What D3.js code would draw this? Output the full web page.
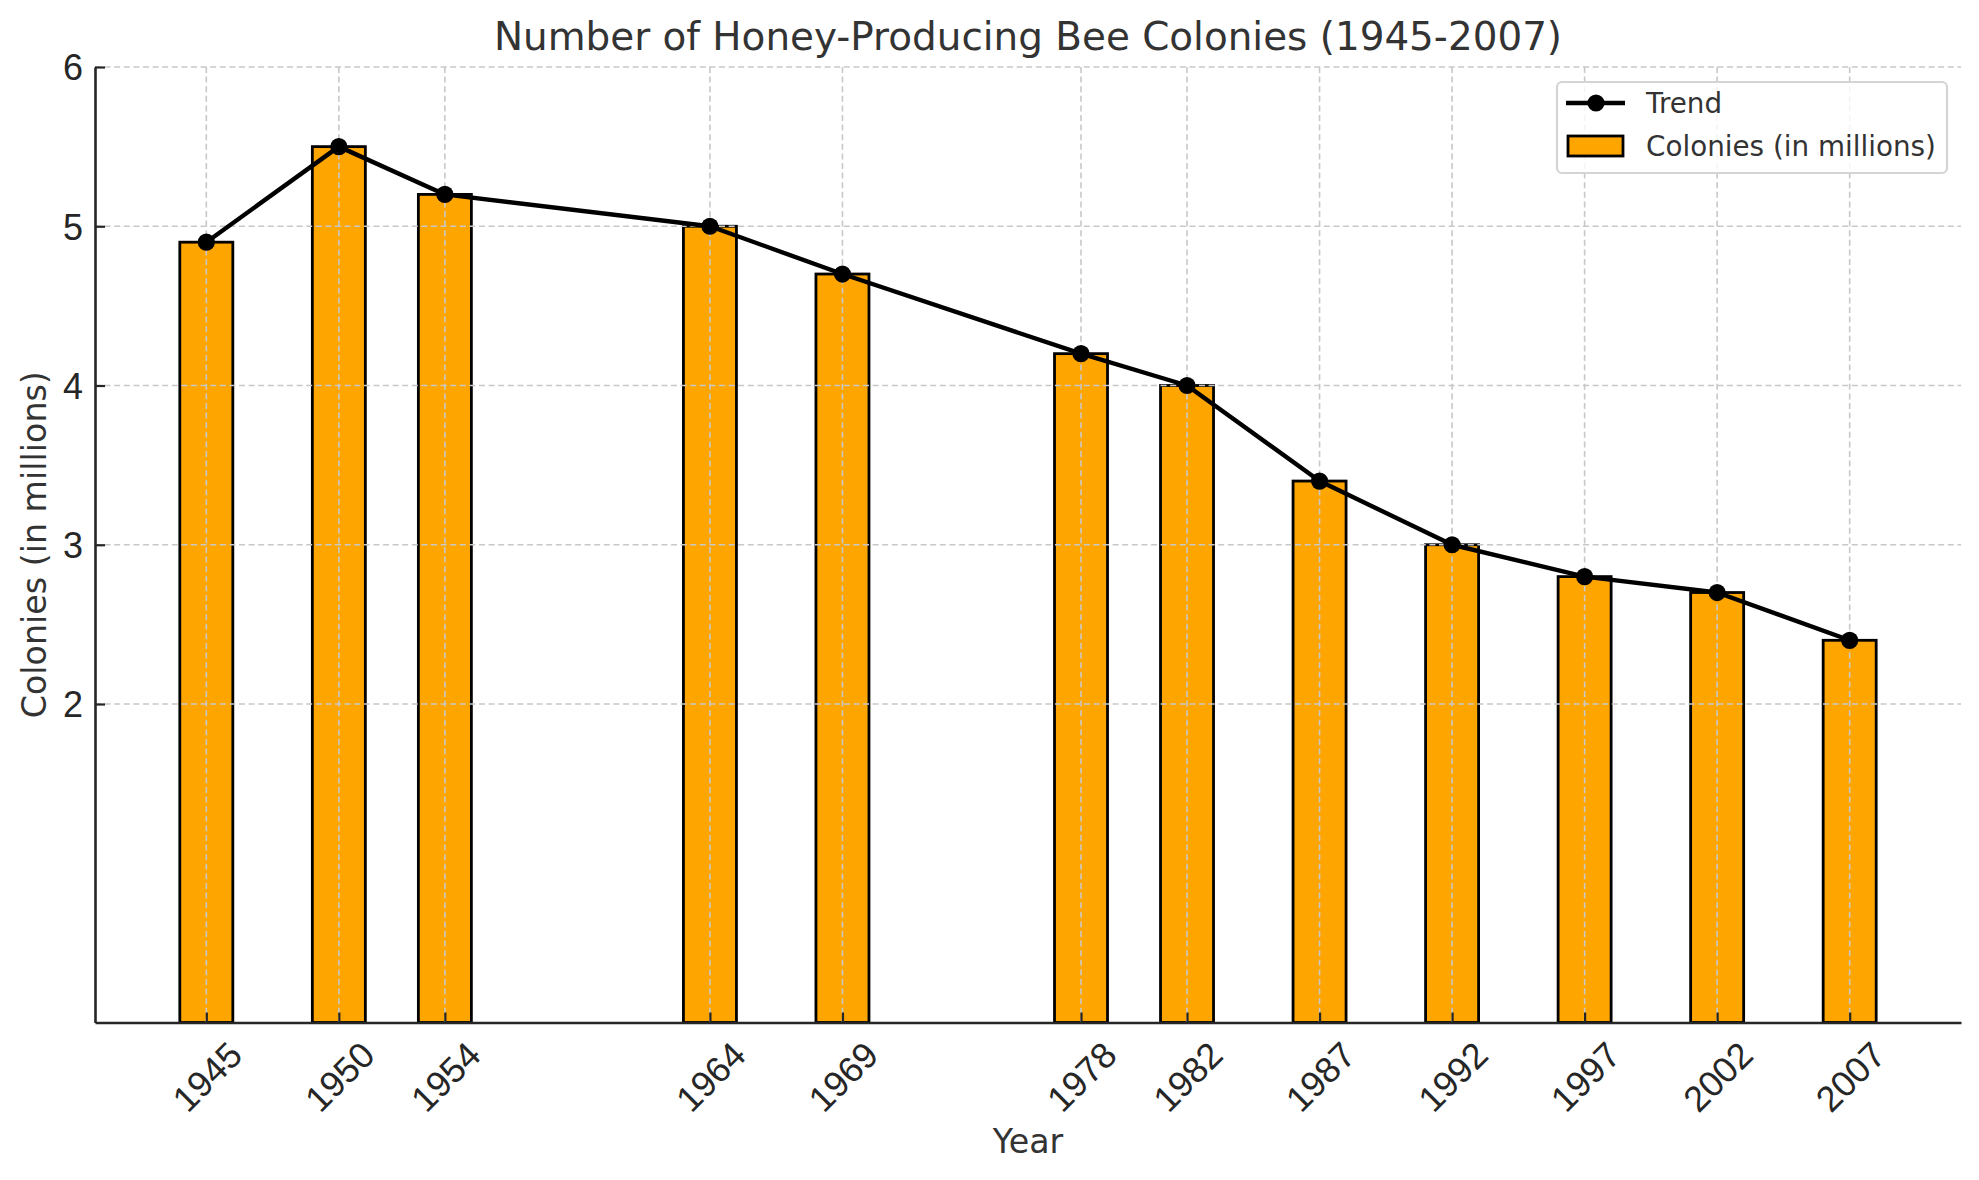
<!DOCTYPE html>
<html>
<head>
<meta charset="utf-8">
<script src="https://cdn.jsdelivr.net/npm/d3@7"></script>
<style>
  html, body { margin: 0; padding: 0; background: #fff; }
  svg { display: block; font-family: "DejaVu Sans", sans-serif; }
</style>
</head>
<body>
<svg id="chart" width="1979" height="1180"></svg>
<script>
const years = [1945, 1950, 1954, 1964, 1969, 1978, 1982, 1987, 1992, 1997, 2002, 2007];
const colonies = [4.9, 5.5, 5.2, 5.0, 4.7, 4.2, 4.0, 3.4, 3.0, 2.8, 2.7, 2.4];
const yTicks = [2, 3, 4, 5, 6];
const titleText = "Number of Honey-Producing Bee Colonies (1945-2007)";
const xLabel = "Year";
const yLabel = "Colonies (in millions)";
const legendLabels = ["Trend", "Colonies (in millions)"];

(function () {
const svg = d3.select("#chart");
const mLeft = 95, mRight = 1961, mTop = 67, mBottom = 1022.5;
const barW = 2; // bar width in years
const tickFont = 36;

const span = (years[years.length - 1] + barW / 2) - (years[0] - barW / 2);
const x = d3.scaleLinear()
  .domain([years[0] - barW / 2 - 0.05 * span, years[years.length - 1] + barW / 2 + 0.05 * span])
  .range([mLeft, mRight]);
const y = d3.scaleLinear().domain([0, 6]).range([mBottom, mTop]);

const data = years.map((yr, i) => ({ year: yr, value: colonies[i] }));

// Bars
svg.append("g").selectAll("rect").data(data).join("rect")
  .attr("x", d => x(d.year - barW / 2))
  .attr("width", d => x(d.year + barW / 2) - x(d.year - barW / 2))
  .attr("y", d => y(d.value))
  .attr("height", d => y(0) - y(d.value))
  .attr("fill", "#FFA500")
  .attr("stroke", "#000")
  .attr("stroke-width", 2.8);

// Grid (drawn above bars)
const grid = svg.append("g").attr("stroke", "#c8c8c8").attr("stroke-width", 1.6)
  .attr("stroke-dasharray", "6,3.6").attr("fill", "none");
grid.selectAll("line.gx").data(years).join("line").attr("class", "gx")
  .attr("x1", d => x(d)).attr("x2", d => x(d)).attr("y1", mTop).attr("y2", mBottom);
grid.selectAll("line.gy").data(yTicks).join("line").attr("class", "gy")
  .attr("x1", mLeft).attr("x2", mRight).attr("y1", d => y(d)).attr("y2", d => y(d));

// Axes via d3 axis generators (ticks inward)
const xAxis = d3.axisBottom(x).tickValues(years).tickFormat(d3.format("d"))
  .tickSizeInner(-10).tickSizeOuter(0).tickPadding(0);
const gx = svg.append("g").attr("transform", `translate(0,${mBottom})`).call(xAxis);
gx.select(".domain").attr("stroke", "#262626").attr("stroke-width", 2.6);
gx.selectAll(".tick line").attr("stroke", "#262626").attr("stroke-width", 2.2);
gx.selectAll(".tick text")
  .attr("font-size", tickFont)
  .attr("fill", "#262626")
  .attr("text-anchor", "middle")
  .attr("y", 0)
  .attr("dy", "0.36em")
  .attr("transform", "translate(0,54) rotate(-45)");

const yAxis = d3.axisLeft(y).tickValues(yTicks).tickFormat(d3.format("d"))
  .tickSizeInner(-10).tickSizeOuter(0).tickPadding(12);
const gy = svg.append("g").attr("transform", `translate(${mLeft},0)`).call(yAxis);
gy.select(".domain").attr("stroke", "#262626").attr("stroke-width", 2.6);
gy.selectAll(".tick line").attr("stroke", "#262626").attr("stroke-width", 2.2);
gy.selectAll(".tick text")
  .attr("font-size", tickFont)
  .attr("fill", "#262626")
  .attr("dy", "0.36em");

// Trend line
const line = d3.line().x(d => x(d.year)).y(d => y(d.value));
svg.append("path").datum(data)
  .attr("d", line).attr("fill", "none").attr("stroke", "#000").attr("stroke-width", 4.4)
  .attr("stroke-linejoin", "round");
svg.append("g").selectAll("circle").data(data).join("circle")
  .attr("cx", d => x(d.year)).attr("cy", d => y(d.value)).attr("r", 8.6).attr("fill", "#000");

// Title & labels
svg.append("text").attr("x", (mLeft + mRight) / 2).attr("y", 49.5)
  .attr("text-anchor", "middle").attr("font-size", 38.9).attr("fill", "#333").text(titleText);
svg.append("text").attr("x", (mLeft + mRight) / 2).attr("y", 1153)
  .attr("text-anchor", "middle").attr("font-size", 33.3).attr("fill", "#333").text(xLabel);
svg.append("text").attr("transform", `translate(46,${(mTop + mBottom) / 2}) rotate(-90)`)
  .attr("text-anchor", "middle").attr("font-size", 33.3).attr("fill", "#333").text(yLabel);

// Legend
const lg = svg.append("g");
lg.append("rect").attr("x", 1557).attr("y", 82).attr("width", 390).attr("height", 91)
  .attr("rx", 5).attr("fill", "#fff").attr("fill-opacity", 0.8)
  .attr("stroke", "#d4d4d4").attr("stroke-width", 2.2);
lg.append("line").attr("x1", 1566).attr("x2", 1625).attr("y1", 103).attr("y2", 103)
  .attr("stroke", "#000").attr("stroke-width", 4.4);
lg.append("circle").attr("cx", 1596).attr("cy", 103).attr("r", 8.6).attr("fill", "#000");
lg.append("rect").attr("x", 1568).attr("y", 136).attr("width", 55).attr("height", 20)
  .attr("fill", "#FFA500").attr("stroke", "#000").attr("stroke-width", 2.8);
lg.selectAll("text.lt").data(legendLabels).join("text").attr("class", "lt")
  .attr("x", 1646).attr("y", (d, i) => 103 + i * 43).attr("dy", "0.36em")
  .attr("font-size", 27.8).attr("fill", "#333").text(d => d);
})();
</script>
</body>
</html>
